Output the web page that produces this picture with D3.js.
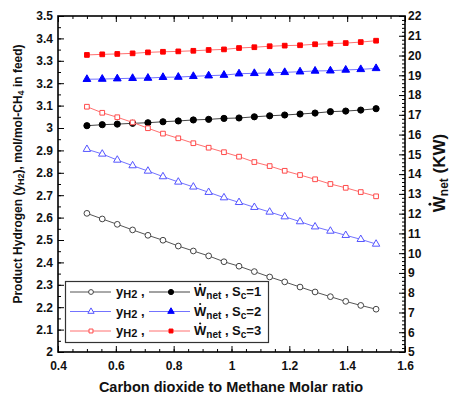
<!DOCTYPE html>
<html><head><meta charset="utf-8">
<script src="https://cdn.jsdelivr.net/npm/d3@7"></script>
<style>
body{margin:0;background:#fff;}
text{font-family:"Liberation Sans",Arial,sans-serif;font-weight:bold;}
</style></head>
<body><svg id="c" width="451" height="396"></svg>
<script>
const ratio = [0.5, 0.553, 0.605, 0.658, 0.711, 0.763, 0.816, 0.868, 0.921, 0.974, 1.026, 1.079, 1.132, 1.184, 1.237, 1.289, 1.342, 1.395, 1.447, 1.5];
const yH2_Sc1 = [2.619, 2.594, 2.570, 2.545, 2.521, 2.499, 2.473, 2.451, 2.429, 2.403, 2.383, 2.359, 2.335, 2.313, 2.290, 2.268, 2.247, 2.226, 2.208, 2.191];
const yH2_Sc2 = [2.905, 2.884, 2.857, 2.832, 2.808, 2.783, 2.759, 2.737, 2.713, 2.689, 2.668, 2.646, 2.625, 2.604, 2.582, 2.559, 2.540, 2.521, 2.503, 2.482];
const yH2_Sc3 = [3.095, 3.068, 3.048, 3.025, 2.999, 2.975, 2.954, 2.932, 2.912, 2.892, 2.872, 2.848, 2.830, 2.809, 2.790, 2.771, 2.750, 2.733, 2.714, 2.695];
const wnet_Sc1 = [16.45, 16.50, 16.53, 16.57, 16.60, 16.65, 16.69, 16.74, 16.77, 16.82, 16.84, 16.90, 16.95, 16.99, 17.04, 17.09, 17.16, 17.19, 17.24, 17.31];
const wnet_Sc2 = [18.80, 18.81, 18.83, 18.85, 18.86, 18.90, 18.91, 18.95, 18.98, 19.01, 19.08, 19.10, 19.12, 19.15, 19.18, 19.22, 19.23, 19.27, 19.30, 19.35];
const wnet_Sc3 = [20.03, 20.06, 20.08, 20.11, 20.16, 20.19, 20.21, 20.24, 20.28, 20.31, 20.38, 20.42, 20.47, 20.50, 20.52, 20.57, 20.60, 20.63, 20.68, 20.75];
const xTicks = [0.4, 0.6, 0.8, 1.0, 1.2, 1.4, 1.6];
const yLeftTicks = [2.0, 2.1, 2.2, 2.3, 2.4, 2.5, 2.6, 2.7, 2.8, 2.9, 3.0, 3.1, 3.2, 3.3, 3.4, 3.5];
const yRightTicks = [5, 6, 7, 8, 9, 10, 11, 12, 13, 14, 15, 16, 17, 18, 19, 20, 21, 22];
const scLabels = ["1", "2", "3"];

const L = 58, R = 405, T = 16, B = 352;
const svg = d3.select("#c");
const x = d3.scaleLinear().domain([0.4, 1.6]).range([L, R]);
const yL = d3.scaleLinear().domain([2, 3.5]).range([B, T]);
const yR = d3.scaleLinear().domain([5, 22]).range([B, T]);
const fmt = d => String(+d.toFixed(1));

function styleAxis(g){
  g.select(".domain").remove();
  g.selectAll("line").attr("stroke","#000").attr("stroke-width",1);
  g.selectAll("text").attr("font-size",12).attr("fill","#111");
}
const minorX = d3.range(0.4, 1.6001, 0.05);
const minorL = d3.range(2, 3.5001, 0.05);
const minorR = d3.range(5, 22.001, 0.2);
svg.append("g").attr("transform",`translate(0,${B})`).call(d3.axisBottom(x).tickValues(minorX).tickSize(-3).tickFormat("")).call(styleAxis);
svg.append("g").attr("transform",`translate(0,${T})`).call(d3.axisTop(x).tickValues(minorX).tickSize(-3).tickFormat("")).call(styleAxis);
svg.append("g").attr("transform",`translate(${L},0)`).call(d3.axisLeft(yL).tickValues(minorL).tickSize(-3).tickFormat("")).call(styleAxis);
svg.append("g").attr("transform",`translate(${R},0)`).call(d3.axisRight(yR).tickValues(minorR).tickSize(-3).tickFormat("")).call(styleAxis);
svg.append("g").attr("transform",`translate(0,${B})`).call(d3.axisBottom(x).tickValues(xTicks).tickSize(-6).tickPadding(9).tickFormat(fmt)).call(styleAxis);
svg.append("g").attr("transform",`translate(0,${T})`).call(d3.axisTop(x).tickValues(xTicks).tickSize(-6).tickFormat("")).call(styleAxis);
svg.append("g").attr("transform",`translate(${L},0)`).call(d3.axisLeft(yL).tickValues(yLeftTicks).tickSize(-6).tickPadding(5).tickFormat(fmt)).call(styleAxis);
svg.append("g").attr("transform",`translate(${R},0)`).call(d3.axisRight(yR).tickValues(yRightTicks).tickSize(-6).tickPadding(3).tickFormat(d3.format("d"))).call(styleAxis);

svg.append("rect").attr("x",L).attr("y",T).attr("width",R-L).attr("height",B-T)
  .attr("fill","none").attr("stroke","#000").attr("stroke-width",1.6);

const series = [
  {v:yH2_Sc1, s:yL, sym:d3.symbolCircle, size:26, stroke:"#444", line:"#555", fill:"#fff"},
  {v:wnet_Sc1, s:yR, sym:d3.symbolCircle, size:30, stroke:"#000", line:"#444", fill:"#000"},
  {v:yH2_Sc2, s:yL, sym:d3.symbolTriangle, size:24, stroke:"#5555ff", line:"#7373ff", fill:"#fff"},
  {v:wnet_Sc2, s:yR, sym:d3.symbolTriangle, size:26, stroke:"#0000ff", line:"#7373ff", fill:"#0000ff"},
  {v:yH2_Sc3, s:yL, sym:d3.symbolSquare, size:22, stroke:"#ff4a4a", line:"#ff7070", fill:"#fff"},
  {v:wnet_Sc3, s:yR, sym:d3.symbolSquare, size:22, stroke:"#ff0000", line:"#ff7070", fill:"#ff0000"}
];
series.forEach(sr => {
  const pts = ratio.map((r,i)=>[x(r), sr.s(sr.v[i])]);
  svg.append("path").attr("d", d3.line()(pts)).attr("fill","none").attr("stroke",sr.line).attr("stroke-width",1);
  svg.append("g").selectAll("path").data(pts).join("path")
    .attr("transform",d=>`translate(${d[0]},${d[1]})`)
    .attr("d", d3.symbol(sr.sym, sr.size)())
    .attr("fill", sr.fill).attr("stroke", sr.stroke).attr("stroke-width", 1);
});

function addDot(parent, textSel, baseline, fs){
  const e = textSel.node().getExtentOfChar(0);
  parent.append("circle").attr("cx", e.x + e.width/2).attr("cy", baseline - fs*0.716 - fs*0.17)
    .attr("r", fs*0.085).attr("fill","#111");
}

// legend
const lg = svg.append("g");
lg.append("rect").attr("x",65.5).attr("y",281.5).attr("width",203).attr("height",61)
  .attr("fill","#fff").attr("stroke","#333").attr("stroke-width",1.2);
const rows = [292, 311.5, 331];
rows.forEach((ry,k)=>{
  const a = series[2*k], b = series[2*k+1];
  lg.append("line").attr("x1",70).attr("x2",111).attr("y1",ry).attr("y2",ry).attr("stroke",a.line).attr("stroke-width",1);
  lg.append("path").attr("transform",`translate(91,${ry})`).attr("d",d3.symbol(a.sym, a.size*0.7)()).attr("fill",a.fill).attr("stroke",a.stroke);
  lg.append("line").attr("x1",149).attr("x2",190).attr("y1",ry).attr("y2",ry).attr("stroke",b.line).attr("stroke-width",1);
  lg.append("path").attr("transform",`translate(171,${ry})`).attr("d",d3.symbol(b.sym, b.size*0.7)()).attr("fill",b.fill).attr("stroke",b.stroke);
  const t1 = lg.append("text").attr("x",116).attr("y",ry+4).attr("font-size",13).attr("fill","#111");
  t1.append("tspan").text("y");
  t1.append("tspan").attr("font-size",11).attr("dy",2).text("H2");
  t1.append("tspan").attr("dy",-2).text(" ,");
  const t2 = lg.append("text").attr("x",194).attr("y",ry+4).attr("font-size",13).attr("fill","#111");
  t2.append("tspan").text("W");
  t2.append("tspan").attr("font-size",10).attr("dy",3).text("net");
  t2.append("tspan").attr("dy",-3).text(" , S");
  t2.append("tspan").attr("font-size",10).attr("dy",3).text("c");
  t2.append("tspan").attr("dy",-3).text("=" + scLabels[k]);
  addDot(lg, t2, ry+4, 13);
});

// axis titles
svg.append("text").attr("x",231).attr("y",392).attr("text-anchor","middle").attr("font-size",14.5).attr("fill","#111")
  .text("Carbon dioxide to Methane Molar ratio");
const lt = svg.append("text").attr("transform","translate(22,174) rotate(-90)").attr("text-anchor","middle").attr("font-size",12).attr("fill","#111");
lt.append("tspan").text("Product Hydrogen (y");
lt.append("tspan").attr("font-size",9).attr("dy",2).text("H2");
lt.append("tspan").attr("dy",-2).text("), mol/mol-CH");
lt.append("tspan").attr("font-size",9).attr("dy",2).text("4");
lt.append("tspan").attr("dy",-2).text(" in feed)");
const rg = svg.append("g").attr("transform","translate(445,173) rotate(-90)");
const rt = rg.append("text").attr("x",0).attr("y",0).attr("text-anchor","middle").attr("font-size",17).attr("fill","#111");
rt.append("tspan").text("W");
rt.append("tspan").attr("font-size",12).attr("dy",2.5).text("net");
rt.append("tspan").attr("dy",-2.5).text(" (KW)");
addDot(rg, rt, 0, 17);
</script></body></html>
